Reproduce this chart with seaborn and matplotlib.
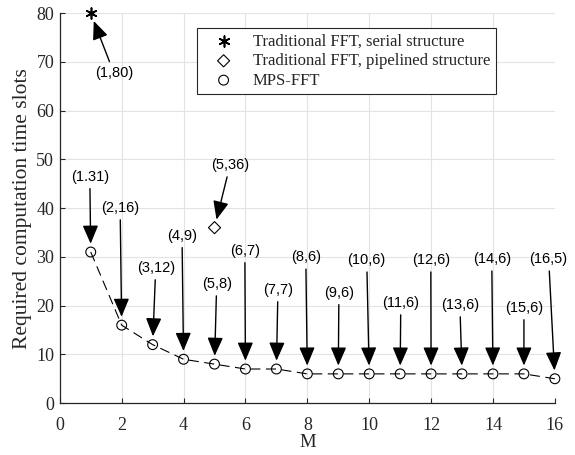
import matplotlib
matplotlib.use("Agg")
import matplotlib.pyplot as plt
import seaborn as sns
import pandas as pd

# MPS-FFT series
m_values = [1, 2, 3, 4, 5, 6, 7, 8, 9, 10, 11, 12, 13, 14, 15, 16]
mps_slots = [31, 16, 12, 9, 8, 7, 7, 6, 6, 6, 6, 6, 6, 6, 6, 5]
# Traditional FFT points
serial_m = [1]
serial_slots = [80]
pipe_m = [5]
pipe_slots = [36]

# annotation labels and their text positions (data coords)
mps_labels = ["(1.31)", "(2,16)", "(3,12)", "(4,9)", "(5,8)", "(6,7)", "(7,7)", "(8,6)",
              "(9,6)", "(10,6)", "(11,6)", "(12,6)", "(13,6)", "(14,6)", "(15,6)", "(16,5)"]
mps_label_x = [0.97, 1.95, 3.1, 3.95, 5.07, 5.98, 7.05, 7.95,
               9.02, 9.92, 11.02, 11.99, 12.93, 13.96, 15.0, 15.8]
mps_label_y = [46.4, 40.0, 27.7, 34.3, 24.4, 31.2, 23.2, 29.9,
               22.6, 29.3, 20.5, 29.3, 20.1, 29.5, 19.5, 29.5]
serial_label = "(1,80)"
serial_label_pos = (1.75, 67.7)
pipe_label = "(5,36)"
pipe_label_pos = (5.5, 48.8)

sns.set_theme(style="white")
plt.rcParams['font.family'] = ['Liberation Serif', 'DejaVu Serif']

fig = plt.figure(figsize=(5.75, 4.55), dpi=100)
ax = fig.add_axes([0.104, 0.114, 0.861, 0.857])

df = pd.DataFrame({"M": m_values, "slots": mps_slots})

sns.scatterplot(x=serial_m, y=serial_slots, ax=ax, marker=(6, 2, 0), s=60,
                color="black", linewidth=1.2, label="Traditional FFT, serial structure",
                zorder=4, clip_on=False)
sns.scatterplot(x=pipe_m, y=pipe_slots, ax=ax, marker="D", s=38,
                facecolor="none", edgecolor="black", linewidth=0.8,
                label="Traditional FFT, pipelined structure", zorder=4, clip_on=False)
sns.scatterplot(data=df, x="M", y="slots", ax=ax, marker="o", s=50,
                facecolor="none", edgecolor="black", linewidth=0.8,
                label="MPS-FFT", zorder=3, clip_on=False)
sns.lineplot(data=df, x="M", y="slots", ax=ax, color="black", linewidth=0.8,
             zorder=5, legend=False)
ax.lines[-1].set_dashes((9, 5))

arrow_kw = dict(arrowstyle="-|>,head_length=0.75,head_width=0.32", color="black",
                lw=1.0, mutation_scale=15, shrinkA=1, shrinkB=6)
txt_kw = dict(family="Liberation Sans", fontsize=10.5, ha="center", va="center", color="black")

for lab, lx, ly, x, y in zip(mps_labels, mps_label_x, mps_label_y, m_values, mps_slots):
    ax.annotate(lab, xy=(x, y), xytext=(lx, ly), arrowprops=arrow_kw, **txt_kw)
ax.annotate(serial_label, xy=(serial_m[0], serial_slots[0]), xytext=serial_label_pos,
            arrowprops=arrow_kw, **txt_kw)
ax.annotate(pipe_label, xy=(pipe_m[0], pipe_slots[0]), xytext=pipe_label_pos,
            arrowprops=arrow_kw, **txt_kw)

ax.set_xlim(0, 16)
ax.set_ylim(0, 80)
ax.set_xticks(range(0, 17, 2))
ax.set_yticks(range(0, 81, 10))
ax.grid(True, color="#e3e3e3", linewidth=0.8)
ax.set_axisbelow(True)
for s in ["top", "right"]:
    ax.spines[s].set_visible(False)
for s in ["bottom", "left"]:
    ax.spines[s].set_color("#262626")
    ax.spines[s].set_linewidth(0.9)
ax.tick_params(direction="in", length=3.5, width=0.8, colors="#262626",
               labelsize=13, labelcolor="#262626", left=True, bottom=True)
ax.tick_params(axis="x", pad=10)
ax.tick_params(axis="y", pad=4)
ax.set_xlabel("M", fontsize=13.5, color="#262626", labelpad=0)
ax.set_ylabel("Required computation time slots", fontsize=15.5, color="#262626", labelpad=3)

leg = ax.legend(loc="upper left", bbox_to_anchor=(0.277, 0.962), fontsize=12,
                frameon=True, fancybox=False, framealpha=1, edgecolor="#262626",
                borderpad=0.35, handletextpad=0.5, labelspacing=0.2, handlelength=2.5,
                borderaxespad=0)
leg.get_frame().set_linewidth(0.8)

fig.savefig("out.png", dpi=100)
